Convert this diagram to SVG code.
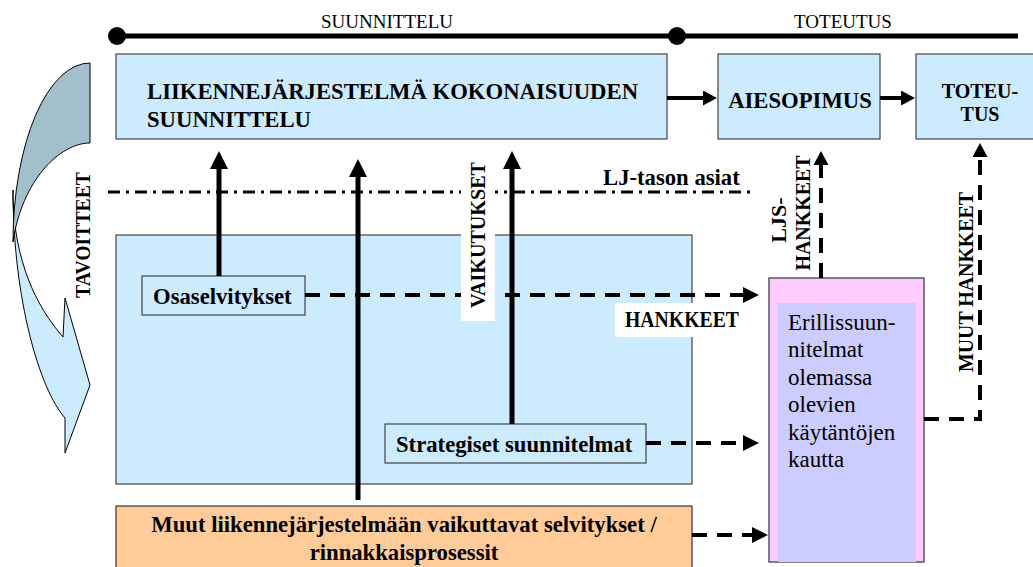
<svg xmlns="http://www.w3.org/2000/svg" width="1033" height="567" viewBox="0 0 1033 567">
  <style>
    text { font-family: "Liberation Serif", "Times New Roman", serif; fill: #000; }
    .b { font-weight: bold; font-size: 22.7px; }
    .r { font-size: 23px; }
    .phase { font-size: 19px; }
    .vert { font-weight: bold; font-size: 22px; text-anchor: middle; }
    .box { fill: #CCEBFF; stroke: #444; stroke-width: 1.2; }
    .solid { fill: none; stroke: #000; stroke-width: 5; }
    .hsolid { fill: none; stroke: #000; stroke-width: 4; }
    .dash { fill: none; stroke: #000; stroke-width: 4; stroke-dasharray: 15 10; }
    .dashdot { fill: none; stroke: #000; stroke-width: 3; stroke-dasharray: 12 6 3 6; }
    .label-bg { fill: #fff; }
  </style>
  <defs>
    <marker id="headBig" markerUnits="userSpaceOnUse" markerWidth="18" markerHeight="18" refX="1" refY="9" orient="auto" viewBox="0 0 18 18">
      <path d="M0,0 L18,9 L0,18 Z" fill="#000"/>
    </marker>
    <marker id="headMid" markerUnits="userSpaceOnUse" markerWidth="16" markerHeight="16" refX="1" refY="8" orient="auto" viewBox="0 0 16 16">
      <path d="M0,0 L16,8 L0,16 Z" fill="#000"/>
    </marker>
    <marker id="headSmall" markerUnits="userSpaceOnUse" markerWidth="14" markerHeight="15" refX="1" refY="7.5" orient="auto" viewBox="0 0 14 15">
      <path d="M0,0 L14,7.5 L0,15 Z" fill="#000"/>
    </marker>
  </defs>

  <!-- phase timeline -->
  <g id="timeline">
    <line x1="117" y1="36" x2="1018" y2="36" stroke="#000" stroke-width="5"/>
    <circle cx="117" cy="36" r="9" fill="#000"/>
    <circle cx="677" cy="36" r="9" fill="#000"/>
    <text class="phase" x="387" y="28" text-anchor="middle">SUUNNITTELU</text>
    <text class="phase" x="843" y="28" text-anchor="middle">TOTEUTUS</text>
  </g>

  <!-- curved goal arrow on the left: light front band with head, darker back band -->
  <g id="tavoitteet-arrow" stroke="#000" stroke-width="1">
    <path d="M13,190 C13,300 40,390 65,418 L65,453 L90,385 L65,298 L63,337 C35,305 15,260 13,200 Z" fill="#CCEBFF"/>
    <path d="M90,63 A77,179 0 0 0 13,242 C22,180 60,143 90,143 Z" fill="#A3BFCC"/>
  </g>

  <!-- nodes -->
  <g id="lj-suunnittelu">
    <rect class="box" x="116" y="54" width="551" height="85"/>
    <text class="b" x="147" y="99">LIIKENNEJÄRJESTELMÄ KOKONAISUUDEN</text>
    <text class="b" x="147" y="127">SUUNNITTELU</text>
  </g>
  <g id="aiesopimus">
    <rect class="box" x="718" y="54" width="162" height="85"/>
    <text class="b" x="800" y="108" text-anchor="middle">AIESOPIMUS</text>
  </g>
  <g id="toteutus">
    <rect class="box" x="916" y="54" width="130" height="85"/>
    <text class="b" x="980" y="98" text-anchor="middle" style="font-size:20px">TOTEU-</text>
    <text class="b" x="980" y="121" text-anchor="middle" style="font-size:20px">TUS</text>
  </g>
  <g id="selvitykset-alue">
    <rect class="box" x="116" y="235" width="576" height="249" stroke="#666"/>
  </g>
  <g id="osaselvitykset">
    <rect class="box" x="142" y="276" width="163" height="39"/>
    <text class="b" x="153" y="304">Osaselvitykset</text>
  </g>
  <g id="strategiset">
    <rect class="box" x="385" y="424" width="261" height="39"/>
    <text class="b" x="396" y="452">Strategiset suunnitelmat</text>
  </g>
  <g id="muut-selvitykset">
    <rect x="116" y="506" width="576" height="80" fill="#FFCC99" stroke="#333" stroke-width="1.2"/>
    <text class="b" x="404" y="532" text-anchor="middle">Muut liikennejärjestelmään vaikuttavat selvitykset /</text>
    <text class="b" x="404" y="560" text-anchor="middle">rinnakkaisprosessit</text>
  </g>
  <g id="erillissuunnitelmat">
    <rect x="769" y="278" width="155" height="284" fill="#FFCCFF" stroke="#333" stroke-width="1.2"/>
    <rect x="778" y="303" width="138" height="259" fill="#CCCCFF"/>
    <text class="r" x="788" y="330">Erillissuun-</text>
    <text class="r" x="788" y="357">nitelmat</text>
    <text class="r" x="788" y="385">olemassa</text>
    <text class="r" x="788" y="412">olevien</text>
    <text class="r" x="788" y="440">käytäntöjen</text>
    <text class="r" x="788" y="467">kautta</text>
  </g>

  <!-- connectors -->
  <g id="connectors">
    <line class="dashdot" x1="108" y1="192" x2="750" y2="192"/>
    <line class="hsolid" x1="667" y1="98" x2="704" y2="98" marker-end="url(#headSmall)"/>
    <line class="hsolid" x1="880" y1="98" x2="902" y2="98" marker-end="url(#headSmall)"/>
    <line class="dash" x1="305" y1="295" x2="744" y2="295" marker-end="url(#headMid)"/>
    <line class="dash" x1="646" y1="443" x2="744" y2="443" marker-end="url(#headMid)"/>
    <line class="dash" x1="692" y1="535" x2="753" y2="535" marker-end="url(#headMid)"/>
    <line class="dash" x1="821" y1="278" x2="821" y2="164" marker-end="url(#headSmall)"/>
    <path class="dash" d="M924,419 H980 V156" marker-end="url(#headSmall)"/>
    <line class="solid" x1="219" y1="276" x2="219" y2="168" marker-end="url(#headBig)"/>
    <line class="solid" x1="358" y1="500" x2="358" y2="176" marker-end="url(#headBig)"/>
    <line class="solid" x1="512" y1="424" x2="512" y2="168" marker-end="url(#headBig)"/>
  </g>

  <!-- connector labels -->
  <g id="labels">
    <text class="b" x="603" y="185">LJ-tason asiat</text>
    <rect class="label-bg" x="615" y="303" width="125" height="34"/>
    <text class="b" x="625" y="327" textLength="114" lengthAdjust="spacingAndGlyphs">HANKKEET</text>
    <rect class="label-bg" x="461" y="158" width="34" height="163"/>
    <text class="vert" transform="translate(485,235) rotate(-90)" textLength="146" lengthAdjust="spacingAndGlyphs">VAIKUTUKSET</text>
    <text class="vert" transform="translate(90,235) rotate(-90)" textLength="126" lengthAdjust="spacingAndGlyphs">TAVOITTEET</text>
    <text class="vert" transform="translate(786,220) rotate(-90)">LJS-</text>
    <text class="vert" transform="translate(810,213) rotate(-90)" textLength="115" lengthAdjust="spacingAndGlyphs">HANKKEET</text>
    <text class="vert" transform="translate(973,282) rotate(-90)" textLength="180" lengthAdjust="spacingAndGlyphs">MUUT HANKKEET</text>
  </g>
</svg>
